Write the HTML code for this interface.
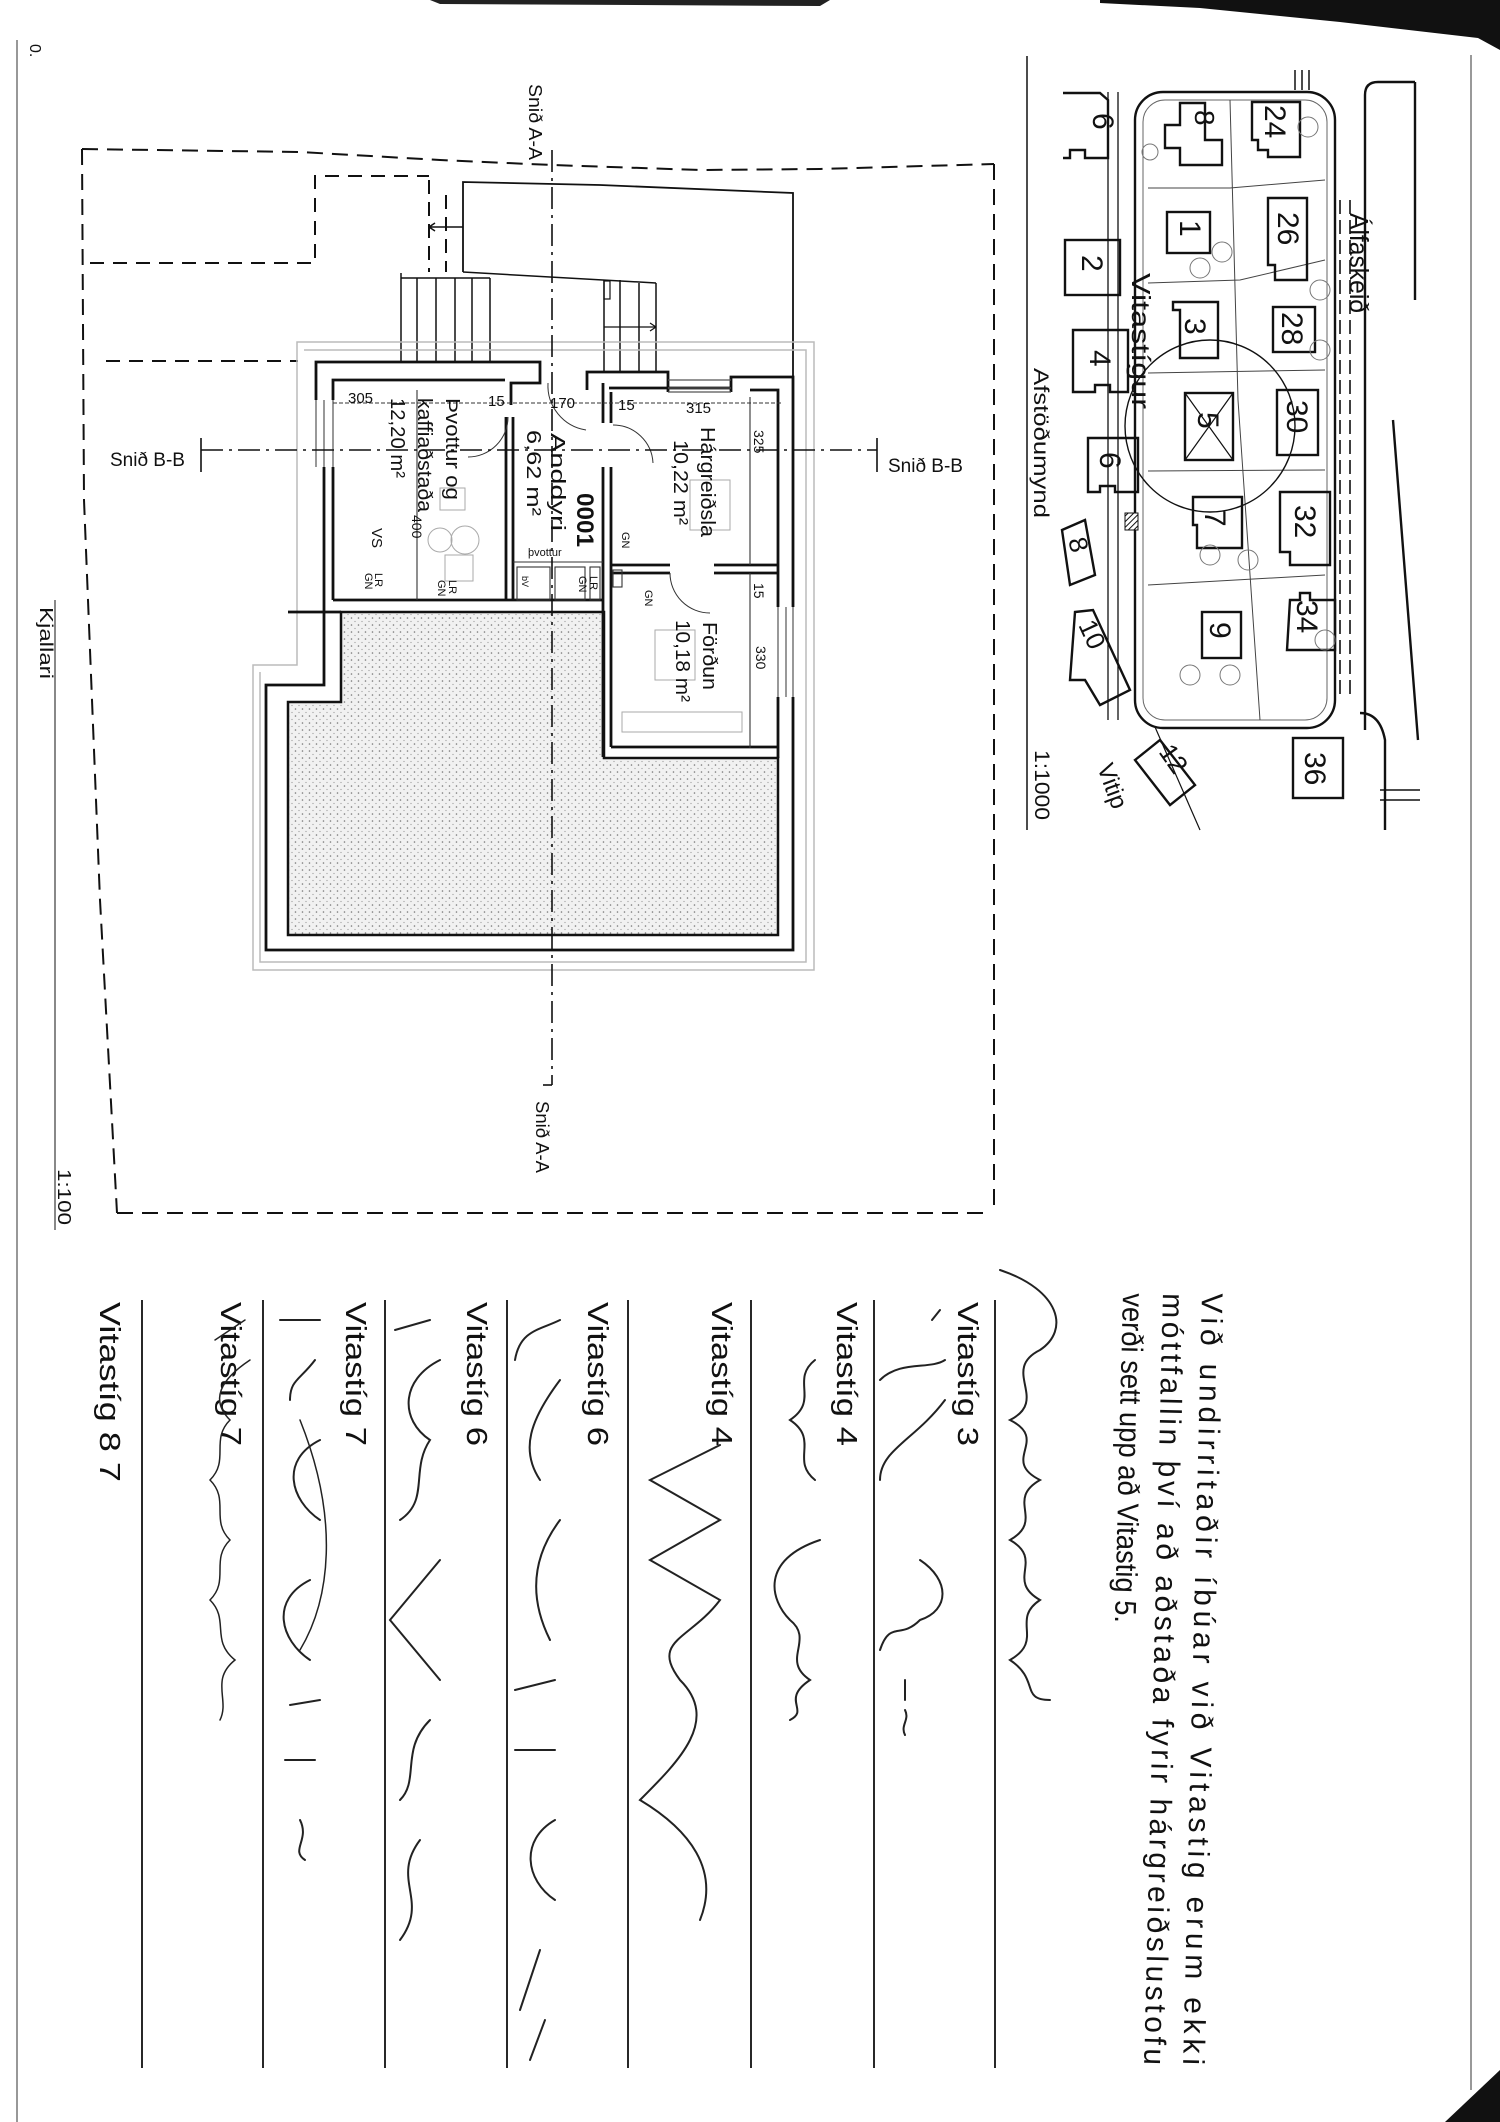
<!DOCTYPE html>
<html><head><meta charset="utf-8">
<style>
html,body{margin:0;padding:0;background:#fff;}
svg{display:block;}
text{font-family:"Liberation Sans",sans-serif;fill:#111;}
</style></head>
<body>
<svg width="1500" height="2122" viewBox="0 0 1500 2122" xmlns="http://www.w3.org/2000/svg">
<defs>
<pattern id="dots" width="7" height="7" patternUnits="userSpaceOnUse">
<rect width="7" height="7" fill="#f1f1f1"/>
<circle cx="1.5" cy="2" r="0.8" fill="#777"/>
<circle cx="5" cy="5.5" r="0.6" fill="#999"/>
</pattern>
<pattern id="hatch" width="4" height="4" patternUnits="userSpaceOnUse" patternTransform="rotate(45)">
<rect width="4" height="4" fill="#fff"/><line x1="0" y1="0" x2="0" y2="4" stroke="#111" stroke-width="2"/>
</pattern>
</defs>

<!-- page edges / scan artifacts -->
<polygon points="1100,0 1500,0 1500,50 1478,38 1340,22 1200,8 1100,3" fill="#111"/>
<polygon points="430,0 830,0 820,6 440,4" fill="#222"/>
<rect x="1470" y="50" width="30" height="2072" fill="#fff"/>
<line x1="1471" y1="55" x2="1471" y2="2090" stroke="#999" stroke-width="2"/>
<polygon points="1445,2122 1500,2070 1500,2122" fill="#111"/>
<line x1="17" y1="40" x2="17" y2="2122" stroke="#777" stroke-width="1.5"/>

<!-- ============ FLOOR PLAN ============ -->
<g fill="none" stroke="#111" stroke-width="2">
<path d="M82,149 L300,152 L440,160 L552,165 L700,170 L820,169 L994,164" stroke-dasharray="16,9"/>
<path d="M82,149 L84,500 L100,900 L117,1213" stroke-dasharray="16,9"/>
<path d="M117,1213 H991" stroke-dasharray="16,9"/>
<path d="M994,164 V1213" stroke-dasharray="16,9"/>
<path d="M90,263 H315 V176 H429" stroke-dasharray="14,9"/>
<path d="M106,361 H298" stroke-dasharray="14,9"/>
<path d="M429,180 V272" stroke-dasharray="14,8"/>
<path d="M446,195 V272" stroke-dasharray="14,8"/>
<path d="M429,227 H463 M429,227 l6,-4 M429,227 l6,4" stroke-width="1.5"/>
<path d="M463,272 V182 L600,185 L793,193 V377" stroke-width="1.8"/>
<path d="M463,272 L656,283" stroke-width="1.5"/>
<path d="M401,278 H490" stroke-width="1.5"/>
<path d="M401,273 V363 M417,278 V363 M436,278 V363 M455,278 V363 M472,278 V363 M490,278 V363" stroke-width="1.5"/>
<path d="M604,280 V372 M620,280 V372 M639,283 V372 M656,283 V372" stroke-width="1.5"/>
<rect x="604" y="281" width="6" height="18" stroke-width="1.2"/>
<path d="M604,327 H656 M656,327 l-6,-4 M656,327 l-6,4" stroke-width="1.2"/>
</g>

<g fill="none" stroke="#bbb" stroke-width="1.5">
<path d="M297,342 H814 V970 H253 V665 H297 Z"/>
<path d="M304,350 H806 V962 H260 V672"/>
</g>

<path d="M341,612 H604 V758 H778 V935 H288 V702 H341 Z" fill="url(#dots)" stroke="#111" stroke-width="2.5"/>

<g fill="none" stroke="#111" stroke-width="2.8">
<path d="M316,400 V362 H540 V383 H511 V405"/>
<path d="M587,390 V372 H668 V392"/>
<path d="M731,392 V377 H793 V607"/>
<path d="M793,697 V950 H266 V685 H324 V467"/>
<path d="M333,400 V380 H505"/>
<path d="M333,467 V600"/>
<path d="M609,388 H731 M750,390 H778 V607"/>
<path d="M778,697 V758"/>
<path d="M333,600 H603 M288,612 H341"/>
<path d="M506,417 V600 M513,417 V600"/>
<path d="M603,467 V757 M611,467 V747"/>
<path d="M603,383 V423 M611,392 V423"/>
<path d="M611,565 H670 M714,565 H778"/>
<path d="M611,573 H670 M714,573 H778"/>
<path d="M611,747 H778"/>
</g>
<g fill="none" stroke="#555" stroke-width="1.2">
<path d="M316,400 V467 M324,400 V467 M333,400 V467"/>
<path d="M668,380 H731 M668,388 H731 M668,392 H731"/>
<path d="M778,607 V697 M786,607 V697 M793,607 V697"/>
</g>
<g fill="none" stroke="#333" stroke-width="1.1">
<path d="M333,403 H781" stroke-dasharray="4,2"/>
<path d="M417,390 V600"/>
<path d="M750,397 V565 M750,573 V748"/>
<path d="M513,562 H603"/>
<rect x="517" y="567" width="33" height="33"/>
<rect x="555" y="567" width="30" height="33"/>
<rect x="590" y="567" width="10" height="33"/>
<rect x="613" y="570" width="9" height="17"/>
<path d="M508,417 A40,40 0 0 1 468,457" stroke-width="1"/>
<path d="M548,383 A45,45 0 0 0 586,430" stroke-width="1"/>
<path d="M613,425 A40,40 0 0 1 653,463" stroke-width="1"/>
<path d="M670,573 A40,40 0 0 0 710,613" stroke-width="1"/>
</g>
<g fill="none" stroke="#aaa" stroke-width="1">
<circle cx="440" cy="540" r="12"/><rect x="440" y="488" width="25" height="22"/>
<circle cx="465" cy="540" r="14"/><rect x="445" y="555" width="28" height="26"/>
<rect x="690" y="480" width="40" height="50"/><rect x="655" y="630" width="40" height="50"/>
<rect x="622" y="712" width="120" height="20"/>
</g>

<g fill="none" stroke="#111" stroke-width="1.6">
<path d="M552,150 V1085" stroke-dasharray="22,6,3,6"/>
<path d="M201,450 H877" stroke-dasharray="22,6,3,6"/>
<path d="M201,438 V472 M877,438 V472"/>
<path d="M552,1085 H543"/>
<line x1="55" y1="600" x2="55" y2="1230" stroke-width="1"/>
</g>

<g font-size="17">
<text x="110" y="466" font-size="19">Snið B-B</text>
<text x="888" y="472" font-size="19">Snið B-B</text>
<text x="348" y="403" font-size="15">305</text>
<text x="488" y="406" font-size="15">15</text>
<text x="550" y="408" font-size="15">170</text>
<text x="618" y="410" font-size="15">15</text>
<text x="686" y="413" font-size="15">315</text>
<text x="528" y="556" font-size="11">þvottur</text>
</g>
<g font-size="17">
<text transform="translate(529,84) rotate(90)" textLength="76" lengthAdjust="spacingAndGlyphs" font-size="18">Snið A-A</text>
<text transform="translate(536,1101) rotate(90)" textLength="72" lengthAdjust="spacingAndGlyphs" font-size="18">Snið A-A</text>
<text transform="translate(40,607) rotate(90)" textLength="72" lengthAdjust="spacingAndGlyphs" font-size="18">Kjallari</text>
<text transform="translate(58,1169) rotate(90)" textLength="56" lengthAdjust="spacingAndGlyphs" font-size="18">1:100</text>
<text transform="translate(30,44) rotate(90)" font-size="16">0.</text>
<text transform="translate(446,398) rotate(90)" textLength="102" lengthAdjust="spacingAndGlyphs" font-size="20">Þvottur og</text>
<text transform="translate(418,398) rotate(90)" textLength="114" lengthAdjust="spacingAndGlyphs" font-size="20">kaffiaðstaða</text>
<text transform="translate(391,398) rotate(90)" textLength="80" lengthAdjust="spacingAndGlyphs" font-size="20">12,20 m²</text>
<text transform="translate(551,433) rotate(90)" textLength="98" lengthAdjust="spacingAndGlyphs" font-size="20">Anddyri</text>
<text transform="translate(527,430) rotate(90)" textLength="86" lengthAdjust="spacingAndGlyphs" font-size="20">6,62 m²</text>
<text transform="translate(577,493) rotate(90)" textLength="54" lengthAdjust="spacingAndGlyphs" font-size="24" font-weight="bold">0001</text>
<text transform="translate(701,427) rotate(90)" textLength="110" lengthAdjust="spacingAndGlyphs" font-size="20">Hárgreiðsla</text>
<text transform="translate(674,440) rotate(90)" textLength="85" lengthAdjust="spacingAndGlyphs" font-size="20">10,22 m²</text>
<text transform="translate(703,622) rotate(90)" textLength="68" lengthAdjust="spacingAndGlyphs" font-size="20">Förðun</text>
<text transform="translate(676,620) rotate(90)" textLength="82" lengthAdjust="spacingAndGlyphs" font-size="20">10,18 m²</text>
<text transform="translate(754,430) rotate(90)" font-size="14">325</text>
<text transform="translate(754,583) rotate(90)" font-size="14">15</text>
<text transform="translate(756,646) rotate(90)" font-size="14">330</text>
<text transform="translate(412,515) rotate(90)" font-size="14">400</text>
<text transform="translate(372,528) rotate(90)" font-size="15">VS</text>
<text transform="translate(375,573) rotate(90)" font-size="11">LR</text>
<text transform="translate(365,573) rotate(90)" font-size="11">GN</text>
<text transform="translate(449,580) rotate(90)" font-size="11">LR</text>
<text transform="translate(438,580) rotate(90)" font-size="11">GN</text>
<text transform="translate(590,576) rotate(90)" font-size="11">LR</text>
<text transform="translate(579,576) rotate(90)" font-size="11">GN</text>
<text transform="translate(622,532) rotate(90)" font-size="11">GN</text>
<text transform="translate(645,590) rotate(90)" font-size="11">GN</text>
<text transform="translate(522,576) rotate(90)" font-size="9">bV</text>
</g>

<!-- ============ SITE MAP ============ -->
<g fill="none" stroke="#111" stroke-width="2.4">
<line x1="1027" y1="56" x2="1027" y2="830" stroke-width="1.5"/>
<rect x="1135" y="92" width="200" height="636" rx="28"/>
<rect x="1143" y="100" width="184" height="620" rx="22" stroke-width="1" stroke="#666"/>
<path d="M1365,730 V95 Q1365,82 1378,82 H1415"/>
<path d="M1393,420 L1418,740 M1415,82 V300"/>
<path d="M1360,713 Q1380,713 1385,740 V830"/>
<path d="M1340,200 V700 M1350,200 V700" stroke-dasharray="14,6" stroke-width="1.6"/>
<path d="M1108,92 V720 M1118,92 V720" stroke-width="1.3"/>
<path d="M1155,727 L1200,830" stroke-width="1.2"/>
<path d="M1295,70 V90 M1302,70 V90 M1309,70 V90" stroke-width="1.5"/>
<path d="M1380,790 H1420 M1380,800 H1420" stroke-width="1.5"/>
<g stroke-width="1" stroke="#444">
<path d="M1148,188 H1230 L1325,180"/>
<path d="M1148,283 L1240,280 L1325,260"/>
<path d="M1148,373 L1325,370"/>
<path d="M1148,471 L1325,470"/>
<path d="M1148,585 L1325,575"/>
<path d="M1230,100 L1238,400 L1260,720"/>
</g>
<path d="M1063,93 H1100 L1108,100 V158 H1085 V150 H1070 V158 H1063"/>
<path d="M1180,103 H1205 V140 H1222 V165 H1180 V148 H1165 V125 H1180 Z"/>
<path d="M1252,102 H1300 V157 H1268 V150 H1258 V140 H1252 Z"/>
<rect x="1167" y="212" width="43" height="41"/>
<path d="M1268,198 H1307 V280 H1275 V265 H1268 Z"/>
<rect x="1065" y="240" width="55" height="55"/>
<path d="M1173,302 H1218 V358 H1180 V310 H1173 Z"/>
<rect x="1273" y="307" width="42" height="45"/>
<path d="M1073,330 H1128 V392 H1110 V385 H1095 V392 H1073 Z"/>
<rect x="1185" y="393" width="48" height="67"/>
<path d="M1185,393 L1233,460 M1233,393 L1185,460" stroke-width="1.2"/>
<rect x="1277" y="390" width="41" height="65"/>
<path d="M1088,438 H1138 V492 H1115 V486 H1100 V492 H1088 Z"/>
<path d="M1193,497 H1242 V548 H1197 V525 H1193 Z"/>
<path d="M1280,492 H1330 V565 H1290 V552 H1280 Z"/>
<path d="M1062,530 L1085,520 L1095,575 L1070,585 Z"/>
<rect x="1202" y="612" width="39" height="46"/>
<path d="M1290,600 H1300 V593 H1310 V600 H1335 V650 H1287 Z"/>
<path d="M1075,612 L1093,610 L1130,690 L1100,705 L1085,680 L1070,680 Z"/>
<path d="M1135,760 L1160,740 L1195,785 L1170,805 Z"/>
<rect x="1293" y="738" width="50" height="60"/>
<rect x="1125" y="513" width="13" height="17" fill="url(#hatch)" stroke-width="1"/>
<ellipse cx="1210" cy="426" rx="85" ry="86" stroke-width="1.4"/>
</g>
<g fill="none" stroke="#777" stroke-width="1">
<circle cx="1308" cy="127" r="10"/><circle cx="1150" cy="152" r="8"/><circle cx="1222" cy="252" r="10"/>
<circle cx="1200" cy="268" r="10"/><circle cx="1320" cy="290" r="10"/><circle cx="1320" cy="350" r="10"/>
<circle cx="1210" cy="555" r="10"/><circle cx="1248" cy="560" r="10"/><circle cx="1325" cy="640" r="10"/>
<circle cx="1230" cy="675" r="10"/><circle cx="1190" cy="675" r="10"/>
</g>
<g font-size="30">
<text transform="translate(1093,113) rotate(90)">6</text>
<text transform="translate(1195,110) rotate(90)" font-size="28">8</text>
<text transform="translate(1265,105) rotate(90)">24</text>
<text transform="translate(1180,220) rotate(90)">1</text>
<text transform="translate(1278,212) rotate(90)">26</text>
<text transform="translate(1082,255) rotate(90)">2</text>
<text transform="translate(1185,318) rotate(90)">3</text>
<text transform="translate(1282,312) rotate(90)">28</text>
<text transform="translate(1090,350) rotate(90)">4</text>
<text transform="translate(1198,412) rotate(90)">5</text>
<text transform="translate(1287,400) rotate(90)">30</text>
<text transform="translate(1100,452) rotate(90)">6</text>
<text transform="translate(1205,510) rotate(90)">7</text>
<text transform="translate(1295,505) rotate(90)">32</text>
<text transform="translate(1068,540) rotate(75)" font-size="26">8</text>
<text transform="translate(1210,622) rotate(90)">9</text>
<text transform="translate(1297,600) rotate(90)">34</text>
<text transform="translate(1078,625) rotate(65)" font-size="26">10</text>
<text transform="translate(1158,752) rotate(55)" font-size="26">12</text>
<text transform="translate(1305,752) rotate(90)">36</text>
<text transform="translate(1350,213) rotate(90)" font-size="26" textLength="100" lengthAdjust="spacingAndGlyphs">Álfaskeið</text>
<text transform="translate(1132,273) rotate(90)" font-size="26" textLength="136" lengthAdjust="spacingAndGlyphs">Vitastígur</text>
<text transform="translate(1034,368) rotate(90)" font-size="21" textLength="150" lengthAdjust="spacingAndGlyphs">Afstöðumynd</text>
<text transform="translate(1035,750) rotate(90)" font-size="21" textLength="70" lengthAdjust="spacingAndGlyphs">1:1000</text>
<text transform="translate(1097,767) rotate(70)" font-size="24">Vitip</text>
</g>

<!-- ============ SIGNATURE SHEET ============ -->
<g stroke="#111" stroke-width="1.8">
<line x1="995" y1="1300" x2="995" y2="2068"/>
<line x1="874" y1="1300" x2="874" y2="2068"/>
<line x1="751" y1="1300" x2="751" y2="2068"/>
<line x1="628" y1="1300" x2="628" y2="2068"/>
<line x1="507" y1="1300" x2="507" y2="2068"/>
<line x1="385" y1="1300" x2="385" y2="2068"/>
<line x1="263" y1="1300" x2="263" y2="2068"/>
<line x1="142" y1="1300" x2="142" y2="2068"/>
</g>
<g font-size="30">
<text transform="translate(1202,1293) rotate(91.4)" textLength="772" lengthAdjust="spacing">Við undirritaðir íbúar við Vitastig erum ekki</text>
<text transform="translate(1163,1293) rotate(91.4)" textLength="772" lengthAdjust="spacing">móttfallin því að aðstaða fyrir hárgreiðslustofu</text>
<text transform="translate(1123,1293) rotate(91.4)" textLength="330" lengthAdjust="spacingAndGlyphs">verði sett upp að Vitastig 5.</text>
</g>
<g font-size="29">
<text transform="translate(958,1302) rotate(90)" textLength="144" lengthAdjust="spacingAndGlyphs">Vitastíg 3</text>
<text transform="translate(837,1302) rotate(90)" textLength="144" lengthAdjust="spacingAndGlyphs">Vitastíg 4</text>
<text transform="translate(712,1302) rotate(90)" textLength="144" lengthAdjust="spacingAndGlyphs">Vitastíg 4</text>
<text transform="translate(588,1302) rotate(90)" textLength="144" lengthAdjust="spacingAndGlyphs">Vitastíg 6</text>
<text transform="translate(467,1302) rotate(90)" textLength="144" lengthAdjust="spacingAndGlyphs">Vitastíg 6</text>
<text transform="translate(346,1302) rotate(90)" textLength="144" lengthAdjust="spacingAndGlyphs">Vitastíg 7</text>
<text transform="translate(221,1302) rotate(90)" textLength="144" lengthAdjust="spacingAndGlyphs">Vitastíg 7</text>
<text transform="translate(100,1302) rotate(90)" textLength="180" lengthAdjust="spacingAndGlyphs">Vitastíg 8 7</text>
</g>
<g fill="none" stroke="#222" stroke-width="2" stroke-linecap="round">
<path d="M1000,1270 C1060,1290 1070,1330 1040,1350 C1000,1370 1050,1400 1010,1420 C1050,1440 1000,1460 1040,1480 C1005,1500 1045,1520 1010,1540 C1045,1560 1005,1580 1040,1600 C1010,1620 1045,1640 1010,1660 C1040,1680 1020,1700 1050,1700"/>
<path d="M940,1310 l-8,10 M945,1360 C930,1370 900,1360 880,1380 M945,1400 C915,1440 880,1450 880,1480 M920,1560 C950,1580 950,1610 920,1620 C900,1640 890,1620 880,1650 M905,1680 l0,20 M905,1710 c5,10 -5,15 0,25"/>
<path d="M815,1360 C790,1380 820,1400 790,1420 C820,1440 790,1460 815,1480 M820,1540 C760,1560 770,1600 790,1620 C815,1640 780,1660 810,1680 C780,1700 810,1710 790,1720"/>
<path d="M720,1445 L650,1480 L720,1520 L650,1560 L720,1600 C690,1640 650,1640 680,1680 C720,1720 680,1760 640,1800 C690,1830 720,1870 700,1920"/>
<path d="M560,1320 C540,1330 520,1330 515,1360 M560,1380 C530,1420 520,1450 540,1480 M560,1520 C530,1560 530,1600 550,1640 M555,1680 l-40,10 M555,1750 l-40,0 M555,1820 C520,1840 525,1880 555,1900 M540,1950 l-20,60 M545,2020 l-15,40"/>
<path d="M430,1320 L395,1330 M440,1360 C400,1380 400,1420 430,1440 C410,1470 430,1500 400,1520 M440,1560 L390,1620 L440,1680 M430,1720 C400,1750 420,1780 400,1800 M420,1840 C390,1880 430,1900 400,1940"/>
<path d="M320,1320 L280,1320 M315,1360 C300,1380 290,1380 290,1400 M320,1440 C280,1460 290,1500 320,1520 M310,1580 C270,1600 280,1640 310,1660 M320,1700 l-30,5 M315,1760 l-30,0 M300,1820 c10,20 -10,30 5,40"/>
<path d="M245,1320 l-30,20 M250,1360 C220,1380 210,1400 230,1420 C210,1440 230,1460 210,1480 C230,1500 210,1520 230,1540 C210,1560 230,1580 210,1600 C230,1620 210,1640 235,1660 C210,1680 230,1700 220,1720 M300,1420 C340,1520 330,1600 300,1650" stroke-width="1.5"/>
</g>
</svg>
</body></html>
